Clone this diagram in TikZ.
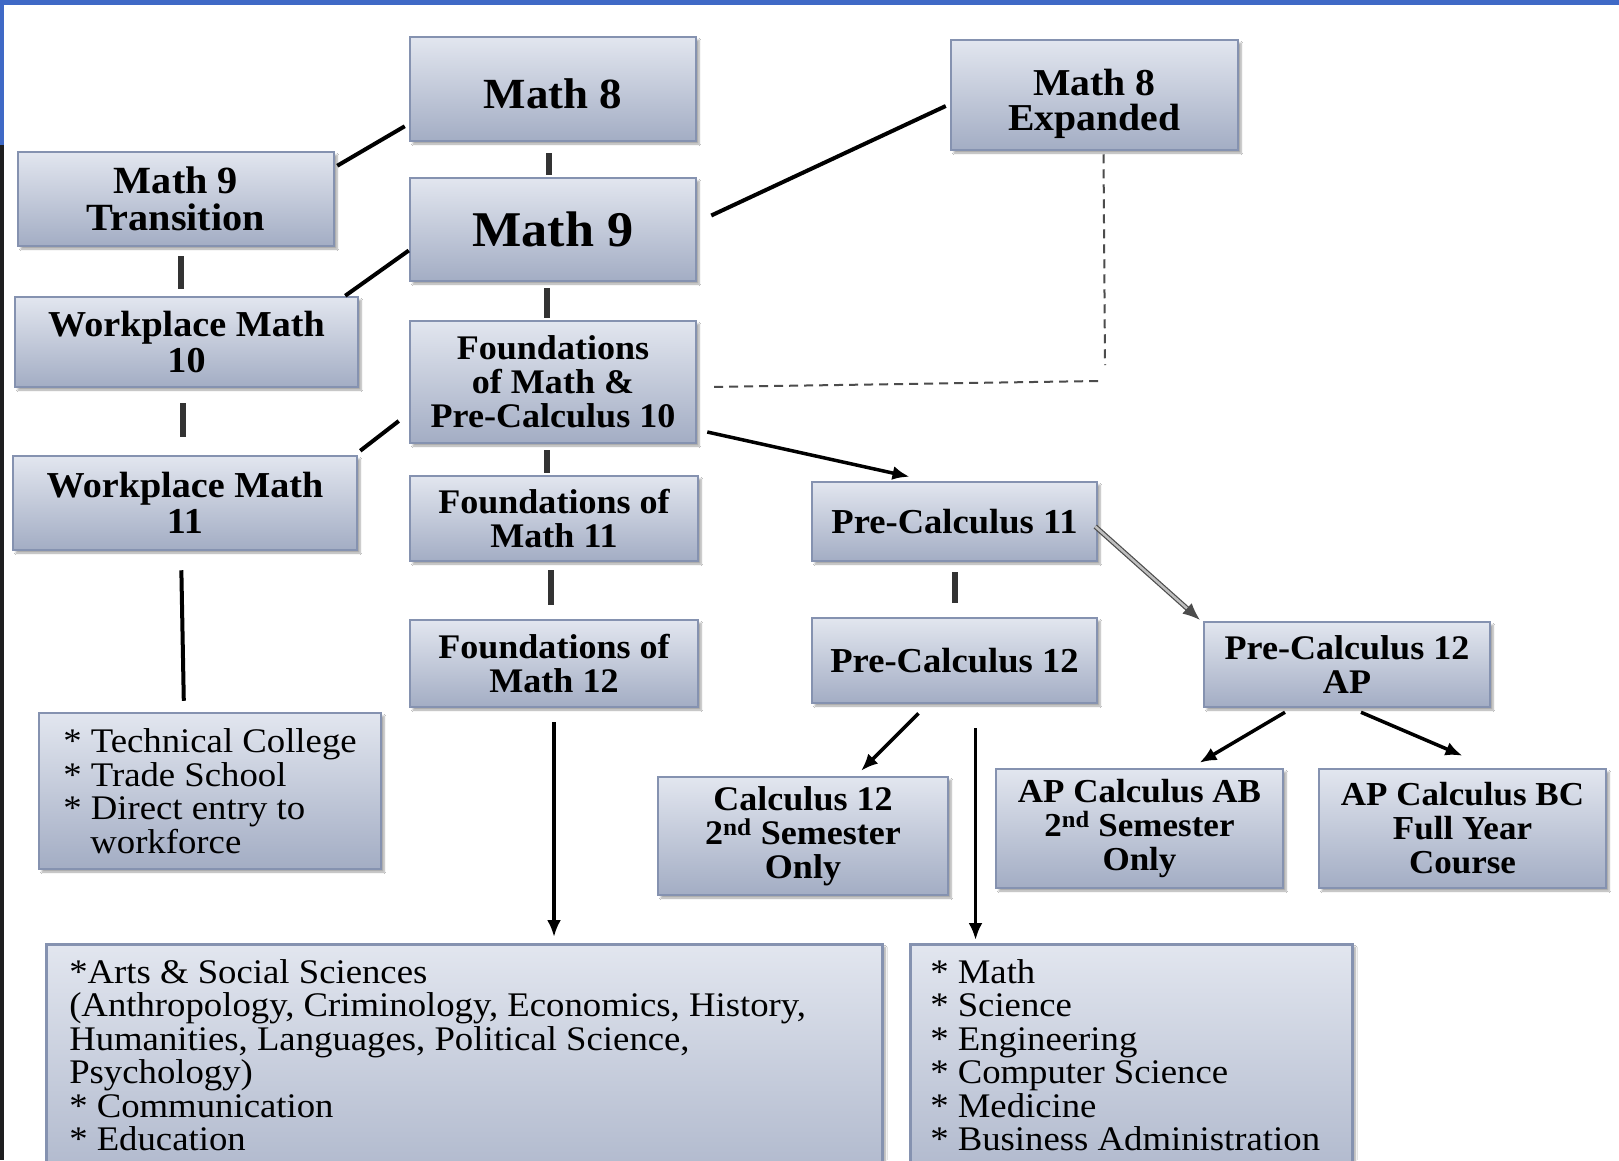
\documentclass[tikz,border=0pt]{standalone}
\usepackage{fontspec}
\setmainfont[FakeStretch=1.045]{Liberation Serif}
\newfontfamily\listfont[FakeStretch=1.065]{Liberation Serif}
\usetikzlibrary{arrows.meta,shadows.blur}
\definecolor{boxtop}{HTML}{E2E6EF}
\definecolor{boxbot}{HTML}{A3ADC4}
\definecolor{boxedge}{HTML}{8592B0}
\definecolor{frameblue}{HTML}{3F69C6}
\definecolor{framedark}{HTML}{1E1E20}
\begin{document}
\begin{tikzpicture}[x=1pt, y=-1pt,
	course/.style = {draw=boxedge, line width=2.5pt, top color=boxtop, bottom color=boxbot, inner sep=0pt, align=center,
		blur shadow={shadow xshift=3pt, shadow yshift=-3pt, shadow blur steps=6, shadow opacity=35},
		font=\bfseries\fontsize{34.5}{34}\selectfont},
	list/.style = {course, align=left, font=\listfont\fontsize{34.5}{33.5}\selectfont},
	link/.style = {line width=4pt, black},
	tie/.style = {line width=6pt, black!80},
	flow/.style = {line width=3.5pt, black, -{Latex[length=17pt,width=14pt]}}]
	\clip (0,0) rectangle (1619,1160);
	\useasboundingbox (0,0) rectangle (1619,1160);
	\fill[white] (0,0) rectangle (1619,1160);
	\fill[frameblue] (0,0) rectangle (1619,5);
	\fill[frameblue] (0,0) rectangle (4,145);
	\fill[framedark] (0,145) rectangle (4,1160);
	% courses
	\node[course, minimum width=286pt, minimum height=104pt, text height=39.5pt, font=\bfseries\fontsize{43}{40}\selectfont] (m8) at (553,89) {Math 8};
	\node[course, minimum width=287pt, minimum height=110pt, text height=79pt, font=\bfseries\fontsize{38}{35}\selectfont] (m8x) at (1094.5,95) {Math 8\\Expanded};
	\node[course, minimum width=316pt, minimum height=94pt, font=\bfseries\fontsize{38.5}{37}\selectfont] (m9t) at (176,199) {Math 9\\Transition};
	\node[course, minimum width=286pt, minimum height=103pt, font=\bfseries\fontsize{50}{44}\selectfont] (m9) at (553,229.5) {Math 9};
	\node[course, minimum width=343pt, minimum height=90pt, font=\bfseries\fontsize{36.5}{36}\selectfont] (wm10) at (186.5,342) {Workplace Math\\10};
	\node[course, minimum width=286pt, minimum height=122pt] (fp10) at (553,382) {Foundations\\of Math \&\\Pre-Calculus 10};
	\node[course, minimum width=344pt, minimum height=94pt, font=\bfseries\fontsize{36.5}{36}\selectfont] (wm11) at (185,503) {Workplace Math\\11};
	\node[course, minimum width=288pt, minimum height=85pt] (fm11) at (554,518.5) {Foundations of\\Math 11};
	\node[course, minimum width=285pt, minimum height=79pt, font=\bfseries\fontsize{35}{34}\selectfont] (pc11) at (954.5,521.5) {Pre-Calculus 11};
	\node[course, minimum width=288pt, minimum height=87pt] (fm12) at (554,663.5) {Foundations of\\Math 12};
	\node[course, minimum width=285pt, minimum height=85pt, font=\bfseries\fontsize{35}{34}\selectfont] (pc12) at (954.5,660.5) {Pre-Calculus 12};
	\node[course, minimum width=286pt, minimum height=85pt, font=\bfseries\fontsize{34.5}{34}\selectfont] (pc12ap) at (1347,664.5) {Pre-Calculus 12\\AP};
	\node[course, minimum width=290pt, minimum height=118pt] (calc12) at (803,836) {Calculus 12\\2\textsuperscript{nd} Semester\\Only};
	\node[course, minimum width=287pt, minimum height=119pt, font=\bfseries\fontsize{33.5}{34}\selectfont] (ab) at (1139.5,828.5) {AP Calculus AB\\2\textsuperscript{nd} Semester\\Only};
	\node[course, minimum width=287pt, minimum height=119pt, font=\bfseries\fontsize{33.5}{34}\selectfont] (bc) at (1462.5,828.5) {AP Calculus BC\\Full Year\\Course};
	% destinations
	\node[list, minimum width=342pt, minimum height=156pt] (tech) at (210,791) {* Technical College\\{}* Trade School\\{}* Direct entry to\\\hspace*{27pt}workforce};
	\node[list, anchor=north west, inner xsep=23pt, inner ysep=15pt] (arts) at (45,943) {\parbox[t][262pt][t]{790pt}{\raggedright\noindent *Arts \& Social Sciences\\(Anthropology, Criminology, Economics, History,\\Humanities, Languages, Political Science,\\Psychology)\\{}* Communication\\{}* Education}};
	\node[list, anchor=north west, inner xsep=20pt, inner ysep=15pt] (sci) at (909,943) {\parbox[t][262pt][t]{402pt}{\raggedright\noindent * Math\\{}* Science\\{}* Engineering\\{}* Computer Science\\{}* Medicine\\{}* Business Administration}};
	\coordinate (vend) at (1105,365);
	\coordinate (hstart) at (1098,381);
	% connectors
	\draw[link] ([xshift=-4pt,yshift=16pt]m8.south west) -- ([xshift=2pt,yshift=-15pt]m9t.north east);
	\draw[tie, shorten <=11pt, shorten >=2pt] ([xshift=-4pt]m8.south) -- ([xshift=-4pt]m9.north);
	\draw[link] ([xshift=14pt,yshift=14pt]m9.east) -- ([xshift=-4pt,yshift=-11pt]m8x.west);
	\draw[link] ([yshift=-21pt]m9.west) -- ([xshift=-14pt]wm10.north east);
	\draw[tie, shorten <=9pt, shorten >=7pt] ([xshift=5pt]m9t.south) -- ([xshift=5pt]m9t.south |- wm10.north);
	\draw[tie, shorten <=6pt, shorten >=2pt] ([xshift=-6pt]m9.south) -- ([xshift=-6pt]fp10.north);
	\draw[tie, shorten <=15pt, shorten >=18pt] ([xshift=-4pt]wm10.south) -- ([xshift=-4pt]wm10.south |- wm11.north);
	\draw[link] ([xshift=-10pt,yshift=-39pt]fp10.west) -- ([xshift=2pt,yshift=4pt]wm11.north east);
	\draw[tie, shorten <=6pt, shorten >=2pt] ([xshift=-6pt]fp10.south) -- ([xshift=-6pt]fp10.south |- fm11.north);
	\draw[flow] ([xshift=10pt,yshift=-50pt]fp10.east) -- ([xshift=-45pt,yshift=4pt]pc11.north);
	\draw[black!70, line width=2pt, dash pattern=on 9pt off 6pt] ([xshift=9pt,yshift=-3pt]m8x.south) -- (vend);
	\draw[black!70, line width=2pt, dash pattern=on 9pt off 6pt] (hstart) -- ([xshift=11pt,yshift=-5pt]fp10.east);
	\draw[line width=1.2pt, draw=black!70, double=black!25, double distance=2.5pt, -{Latex[length=17pt,width=14pt]}] ([xshift=-3pt,yshift=-5pt]pc11.east) -- ([xshift=-3pt,yshift=1pt]pc12ap.north west);
	\draw[tie, shorten <=10pt, shorten >=14pt] (pc11.south) -- (pc12.north);
	\draw[tie, shorten <=8pt, shorten >=14pt] ([xshift=-3pt]fm11.south) -- ([xshift=-3pt]fm12.north);
	\draw[link, shorten <=19pt, shorten >=11pt] ([xshift=-4pt]wm11.south) -- ([xshift=-26pt]tech.north);
	\draw[flow, shorten <=14pt, shorten >=6pt] (fm12.south) -- (fm12.south |- arts.north);
	\draw[flow] ([xshift=-36pt,yshift=-9pt]pc12.south) -- ([xshift=58pt,yshift=5pt]calc12.north);
	\draw[flow, shorten <=24pt, shorten >=3pt] ([xshift=21pt]pc12.south) -- ([xshift=21pt]pc12.south |- sci.north);
	\draw[flow] ([xshift=-62pt,yshift=-4pt]pc12ap.south) -- ([xshift=60pt,yshift=5pt]ab.north);
	\draw[flow] ([xshift=14pt,yshift=-4pt]pc12ap.south) -- ([yshift=12pt]bc.north);
\end{tikzpicture}
\end{document}
